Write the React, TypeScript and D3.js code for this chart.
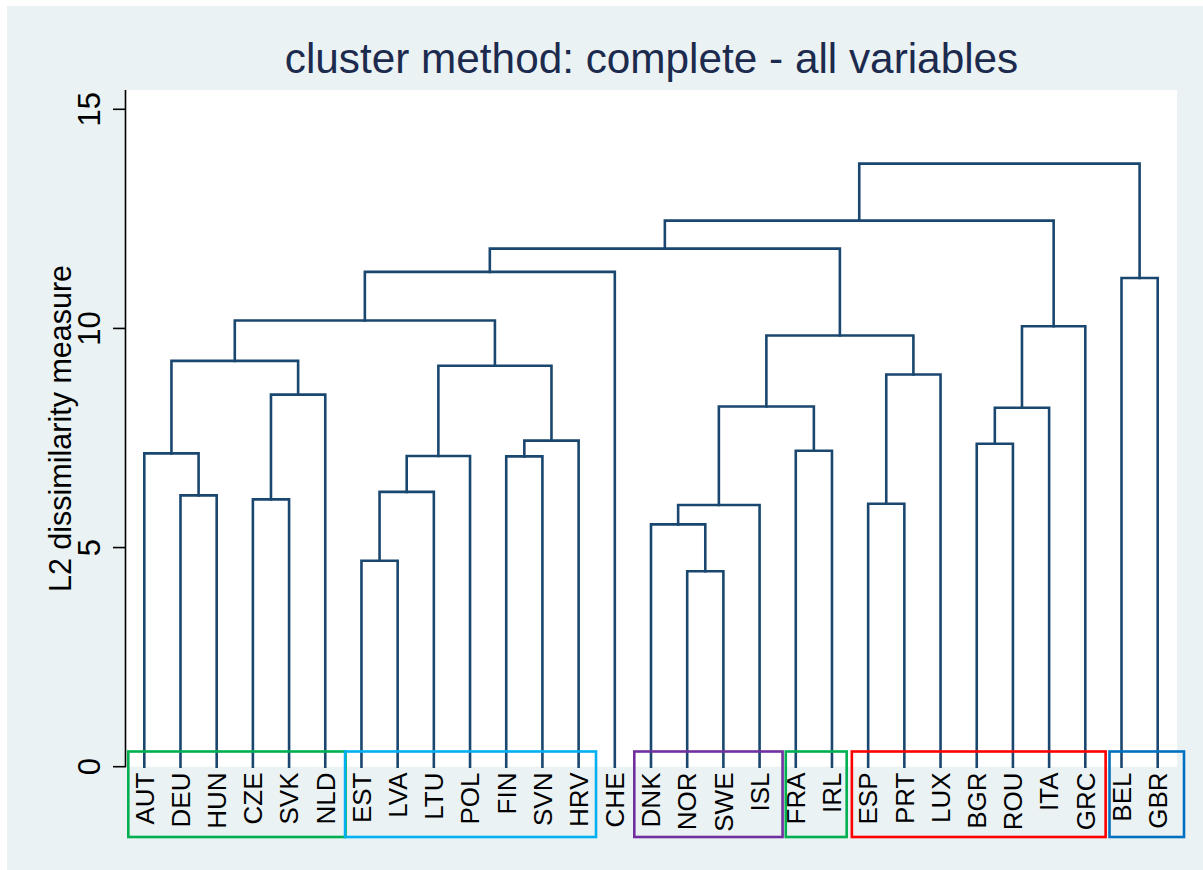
import React from "react";
import * as d3 from "d3";

const leaves = ["AUT","DEU","HUN","CZE","SVK","NLD","EST","LVA","LTU","POL","FIN","SVN","HRV","CHE","DNK","NOR","SWE","ISL","FRA","IRL","ESP","PRT","LUX","BGR","ROU","ITA","GRC","BEL","GBR"];

// merges: node id, left child, right child, height (L2 dissimilarity)
const mergeIds = ["n1","n2","n3","n4","n5","n6","n7","n8","n9","n10","n11","n12","n13","n14","n15","n16","n17","n18","n19","n20","n21","n22","n23","n24","n25","n26","n27","n28"];
const mergeLeft = ["DEU","AUT","CZE","n3","n2","EST","n6","n7","FIN","n9","n8","n5","n12","NOR","DNK","n15","FRA","n16","ESP","n19","n18","n13","BGR","n23","n24","n22","BEL","n26"];
const mergeRight = ["HUN","n1","SVK","NLD","n4","LVA","LTU","POL","SVN","HRV","n10","n11","CHE","SWE","n14","ISL","IRL","n17","PRT","LUX","n20","n21","ROU","ITA","GRC","n25","GBR","n27"];
const mergeHeight = [6.19,7.15,6.10,8.49,9.26,4.70,6.27,7.09,7.08,7.44,9.15,10.18,11.29,4.46,5.53,5.97,7.21,8.22,6.00,8.95,9.84,11.82,7.37,8.19,10.05,12.46,11.15,13.76];

const yTicks = [0, 5, 10, 15];

// highlighted groups of leaves
const groupFirst = ["AUT","EST","DNK","FRA","ESP","BEL"];
const groupLast = ["NLD","HRV","ISL","IRL","GRC","GBR"];
const groupColor = ["#00b050","#00b0f0","#7030a0","#00b050","#ff0000","#0070c0"];
const groupPadL = [16, 16.4, 16.7, 10, 16.3, 12];
const groupPadR = [20.3, 17.4, 23, 14.7, 20.3, 26.3];

const titleText = "cluster method: complete - all variables";
const yTitle = "L2 dissimilarity measure";

const FONT = "'Liberation Sans', Arial, Helvetica, sans-serif";
const LINE = "#1a476f";

export default function App() {
  const W = 1203, H = 870;
  const plotL = 125.5, plotR = 1177, plotT = 90, plotB = 766.7;

  const x = d3.scalePoint<string>().domain(leaves).range([144.3, 1157.7]);
  const y = d3.scaleLinear().domain([0, 15]).range([plotB, 109.3]);

  const pos: Record<string, { x: number; h: number }> = {};
  leaves.forEach((l) => (pos[l] = { x: x(l) as number, h: 0 }));
  const paths: string[] = [];
  mergeIds.forEach((id, i) => {
    const a = pos[mergeLeft[i]];
    const b = pos[mergeRight[i]];
    const h = mergeHeight[i];
    pos[id] = { x: (a.x + b.x) / 2, h };
    const p = d3.path();
    p.moveTo(a.x, y(a.h));
    p.lineTo(a.x, y(h));
    p.lineTo(b.x, y(h));
    p.lineTo(b.x, y(b.h));
    paths.push(p.toString());
  });

  const boxTop = 751.5, boxBot = 837;

  return (
    <svg width={W} height={H} style={{ position: "absolute", left: 0, top: 0 }} fontFamily={FONT}>
      <rect x={0} y={0} width={W} height={H} fill="#ffffff" />
      <rect x={7} y={6} width={W - 7} height={H - 6} fill="#eaf2f3" />
      <rect x={plotL} y={plotT} width={plotR - plotL} height={plotB - plotT} fill="#ffffff" />

      <text x={651.5} y={73} textAnchor="middle" fontSize={42.3} fill="#1c2a4e">{titleText}</text>

      {/* y axis */}
      <line x1={plotL} x2={plotL} y1={plotT} y2={plotB + 0.5} stroke="#000" strokeWidth={1.6} />
      {yTicks.map((t) => (
        <g key={t}>
          <line x1={113} x2={plotL} y1={y(t)} y2={y(t)} stroke="#000" strokeWidth={1.6} />
          <text transform={`translate(100,${y(t)}) rotate(-90)`} textAnchor="middle" fontSize={31} fill="#000">{t}</text>
        </g>
      ))}
      <text transform={`translate(71,428.5) rotate(-90)`} textAnchor="middle" fontSize={30.5} fill="#000">{yTitle}</text>

      {/* dendrogram */}
      {paths.map((d, i) => (
        <path key={i} d={d} fill="none" stroke={LINE} strokeWidth={2.6} strokeLinejoin="miter" strokeLinecap="square" />
      ))}

      {/* leaf labels */}
      {leaves.map((l) => (
        <text key={l} transform={`translate(${(x(l) as number) + 9.3},772.5) rotate(-90)`} textAnchor="end" fontSize={26} fill="#000">{l}</text>
      ))}

      {/* group boxes */}
      {groupFirst.map((g, i) => {
        const x0 = (x(g) as number) - groupPadL[i];
        const x1 = (x(groupLast[i]) as number) + groupPadR[i];
        return (
          <rect key={i} x={x0} y={boxTop} width={x1 - x0} height={boxBot - boxTop} fill="none" stroke={groupColor[i]} strokeWidth={2.6} />
        );
      })}
    </svg>
  );
}
